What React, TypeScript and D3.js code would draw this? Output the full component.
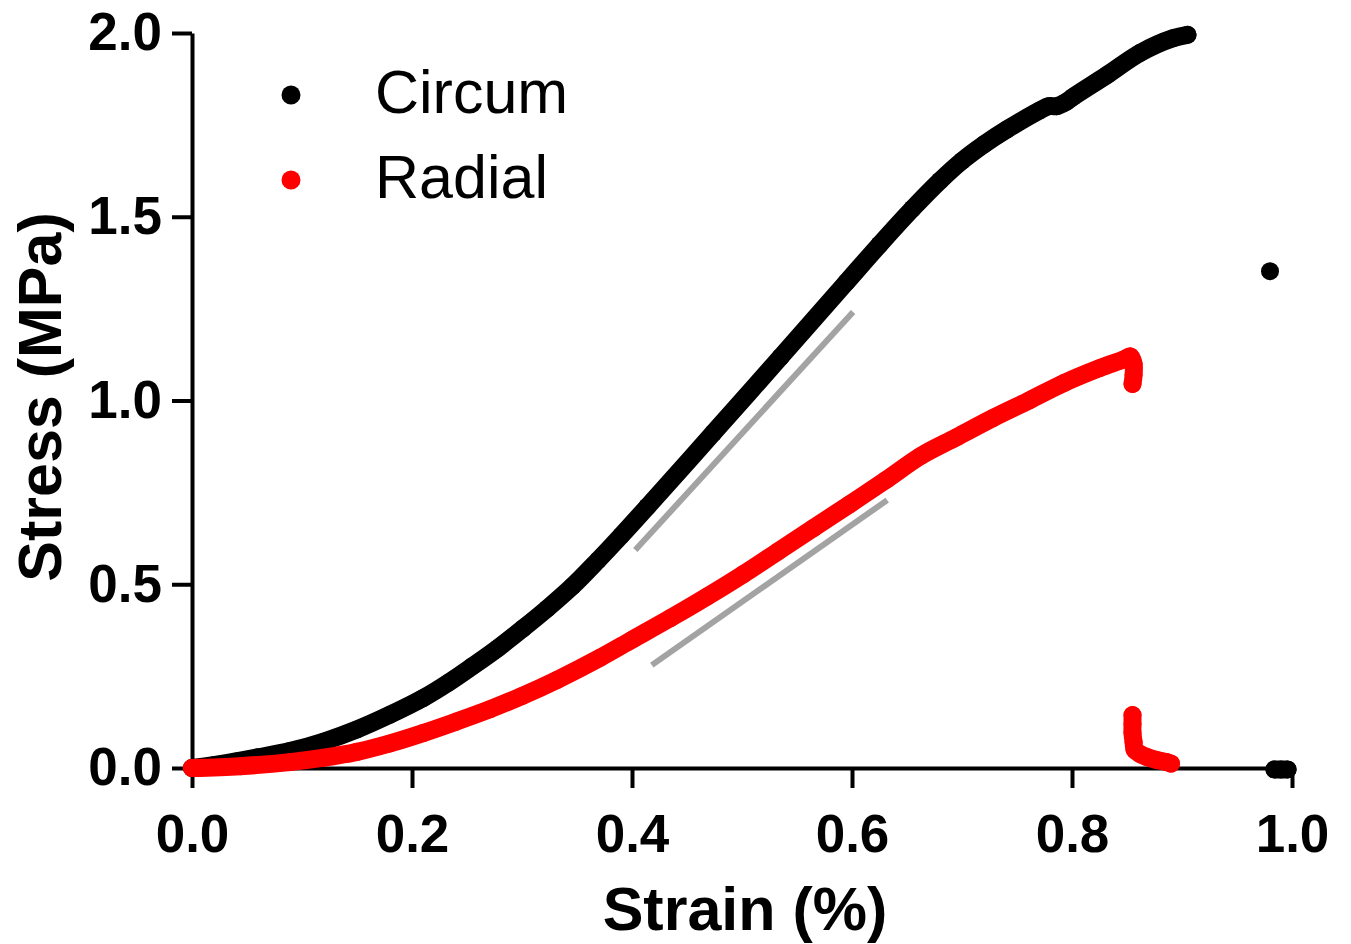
import React, { useEffect, useRef } from 'react'
import * as d3 from 'd3'

// strain (%) , stress (MPa)
const circumLoading: [number, number][] = [
  [0, 0], [0.02, 0.008], [0.04, 0.018], [0.06, 0.029], [0.089, 0.046], [0.12, 0.072],
  [0.15, 0.105], [0.18, 0.145], [0.21, 0.19], [0.233, 0.232], [0.255, 0.277], [0.278, 0.326],
  [0.301, 0.38], [0.323, 0.434], [0.346, 0.495], [0.369, 0.565], [0.39, 0.632], [0.414, 0.711],
  [0.474, 0.912], [0.535, 1.118], [0.595, 1.322], [0.625, 1.424], [0.655, 1.522], [0.68, 1.598],
  [0.7, 1.652], [0.72, 1.697], [0.741, 1.738], [0.771, 1.79], [0.779, 1.801], [0.786, 1.801],
  [0.795, 1.813], [0.801, 1.826], [0.832, 1.886], [0.862, 1.946], [0.892, 1.986], [0.905, 1.995],
]
const circumFailure: [number, number][] = [[0.98, 1.352]]
const circumResidual: [number, number][] = [[0.984, -0.004], [0.99, -0.004], [0.996, -0.004]]

const radialLoading: [number, number][] = [
  [0, 0], [0.044, 0.005], [0.089, 0.016], [0.12, 0.028], [0.15, 0.044], [0.18, 0.067],
  [0.21, 0.095], [0.24, 0.126], [0.271, 0.16], [0.3, 0.196], [0.332, 0.24], [0.371, 0.3],
  [0.4, 0.349], [0.435, 0.408], [0.468, 0.466], [0.501, 0.527], [0.533, 0.59], [0.565, 0.653],
  [0.598, 0.718], [0.631, 0.784], [0.663, 0.85], [0.695, 0.9], [0.728, 0.952], [0.761, 1.0],
  [0.793, 1.048], [0.825, 1.088], [0.848, 1.113], [0.853, 1.12], [0.856, 1.1], [0.856, 1.07],
  [0.855, 1.045],
]
const radialResidual: [number, number][] = [
  [0.855, 0.144], [0.855, 0.12], [0.855, 0.095], [0.856, 0.07], [0.857, 0.049], [0.862, 0.038],
  [0.868, 0.03], [0.877, 0.022], [0.886, 0.016], [0.89, 0.012],
]

// linear-region fit lines
const fitCircum: [number, number][] = [[0.403, 0.593], [0.601, 1.241]]
const fitRadial: [number, number][] = [[0.418, 0.28], [0.632, 0.729]]

const xTicks = [0, 0.2, 0.4, 0.6, 0.8, 1.0]
const yTicks = [0, 0.5, 1.0, 1.5, 2.0]
const legendItems = ['Circum', 'Radial']

const font = '"Liberation Sans", Arial, sans-serif'

const App = () => {
  const svgRef = useRef<SVGSVGElement>(null)

  useEffect(() => {
    const svg = d3.select(svgRef.current)
    svg.selectAll('*').remove()

    const x = d3.scaleLinear().domain([0, 1]).range([192, 1292])
    const y = d3.scaleLinear().domain([0, 2]).range([768, 33])

    const line = d3.line<[number, number]>().x(d => x(d[0])).y(d => y(d[1]))
    const smooth = d3.line<[number, number]>().x(d => x(d[0])).y(d => y(d[1]))
      .curve(d3.curveCatmullRom.alpha(0.5))

    // axes
    const xAxis = svg.append('g')
      .attr('transform', `translate(0,${y(0)})`)
      .call(d3.axisBottom(x).tickValues(xTicks).tickFormat(d3.format('.1f')).tickSize(20).tickSizeOuter(0).tickPadding(26))
    const yAxis = svg.append('g')
      .attr('transform', `translate(${x(0)},0)`)
      .call(d3.axisLeft(y).tickValues(yTicks).tickFormat(d3.format('.1f')).tickSize(20).tickSizeOuter(0).tickPadding(10))

    ;[xAxis, yAxis].forEach(g => {
      g.select('.domain').attr('stroke', '#000').attr('stroke-width', 4)
      g.selectAll('.tick line').attr('stroke', '#000').attr('stroke-width', 4)
      g.selectAll('.tick text')
        .attr('fill', '#000')
        .style('font-family', font)
        .style('font-weight', 'bold')
        .style('font-size', '53px')
    })

    // fit lines
    ;[fitCircum, fitRadial].forEach(f => {
      svg.append('path').attr('d', line(f)).attr('fill', 'none')
        .attr('stroke', '#a3a3a3').attr('stroke-width', 6)
    })

    const drawSeries = (data: [number, number][], color: string) => {
      if (data.length > 1) {
        svg.append('path').attr('d', smooth(data)).attr('fill', 'none')
          .attr('stroke', color).attr('stroke-width', 18)
          .attr('stroke-linejoin', 'round').attr('stroke-linecap', 'round')
      }
      svg.append('g').selectAll('circle').data(data).join('circle')
        .attr('cx', d => x(d[0])).attr('cy', d => y(d[1])).attr('r', 9)
        .attr('fill', color)
    }

    drawSeries(circumLoading, '#000')
    drawSeries(circumFailure, '#000')
    drawSeries(circumResidual, '#000')
    drawSeries(radialLoading, '#ff0000')
    drawSeries(radialResidual, '#ff0000')

    // axis titles
    svg.append('text').text('Strain (%)')
      .attr('x', 745).attr('y', 930).attr('text-anchor', 'middle')
      .style('font-family', font).style('font-weight', 'bold').style('font-size', '61px')
    svg.append('text').text('Stress (MPa)')
      .attr('transform', 'translate(61,397) rotate(-90)').attr('text-anchor', 'middle')
      .style('font-family', font).style('font-weight', 'bold').style('font-size', '61px')

    // legend
    const legendColors = ['#000', '#ff0000']
    const legend = svg.append('g').selectAll('g').data(legendItems).join('g')
      .attr('transform', (d, i) => `translate(0,${i * 85})`)
    legend.append('circle').attr('cx', 291).attr('cy', 95).attr('r', 9.5)
      .attr('fill', (d, i) => legendColors[i])
    legend.append('text').text(d => d).attr('x', 375).attr('y', 113)
      .style('font-family', font).style('font-size', '61px').attr('fill', '#000')
  }, [])

  return (
    <svg ref={svgRef} width={1351} height={944}
      style={{ position: 'absolute', left: 0, top: 0, display: 'block', background: '#fff' }} />
  )
}

export default App
